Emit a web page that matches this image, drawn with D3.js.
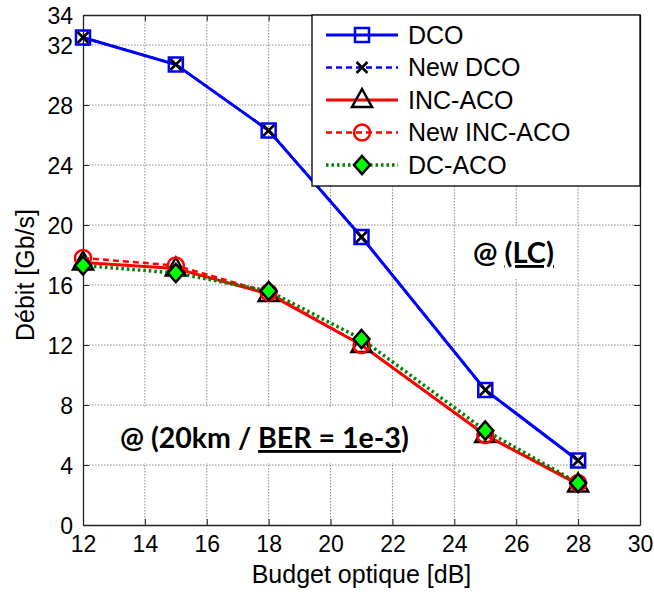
<!DOCTYPE html>
<html><head><meta charset="utf-8">
<script src="https://cdn.jsdelivr.net/npm/d3@7"></script>
<style>body{margin:0;background:#fff}svg{display:block}</style>
</head><body>
<svg id="chart" width="654" height="592"></svg>
<script>
// ---- data ----
const budget = [12, 15, 18, 21, 25, 28];
const dco = [32.5, 30.7, 26.3, 19.2, 9.0, 4.3];
const newDco = [32.5, 30.7, 26.3, 19.2, 9.0, 4.3];
const incAco = [17.5, 17.1, 15.4, 12.0, 6.0, 2.7];
const newIncAco = [17.8, 17.3, 15.5, 12.0, 6.0, 2.8];
const dcAco = [17.3, 16.8, 15.6, 12.4, 6.3, 2.8];
const xTicks = [12, 14, 16, 18, 20, 22, 24, 26, 28, 30];
const yTicks = [0, 4, 8, 12, 16, 20, 24, 28, 32, 34];
const seriesNames = ["DCO", "New DCO", "INC-ACO", "New INC-ACO", "DC-ACO"];

const svg = d3.select("#chart");
const L = 83, R = 640, T = 15, B = 525;
const x = d3.scaleLinear().domain([12, 30]).range([L, R]);
const y = d3.scaleLinear().domain([0, 34]).range([B, T]);
const AX = "'Liberation Sans', Arial, sans-serif";

// grid
const grid = svg.append("g");
grid.selectAll(".gx").data(xTicks.filter(d => d > 12 && d < 30)).join("line")
  .attr("x1", d => x(d)).attr("x2", d => x(d)).attr("y1", T).attr("y2", B)
  .attr("stroke", "#8a8a8a").attr("stroke-width", 1).attr("stroke-dasharray", "1.5,1.5");
grid.selectAll(".gy").data(yTicks.filter(d => d > 0 && d < 34)).join("line")
  .attr("y1", d => y(d)).attr("y2", d => y(d)).attr("x1", L).attr("x2", R)
  .attr("stroke", "#8a8a8a").attr("stroke-width", 1).attr("stroke-dasharray", "1.5,1.5");

// annotation boxes (white background)
svg.append("rect").attr("x", 92).attr("y", 407).attr("width", 345).attr("height", 56).attr("fill", "#fff");
svg.append("rect").attr("x", 460).attr("y", 226).attr("width", 110).attr("height", 53).attr("fill", "#fff");

// axes
const fmt = d3.format("d");
const gx = svg.append("g").attr("transform", `translate(0,${B})`)
  .call(d3.axisBottom(x).tickValues(xTicks).tickFormat(fmt).tickSizeInner(-6).tickSizeOuter(0).tickPadding(10));
const gy = svg.append("g").attr("transform", `translate(${L},0)`)
  .call(d3.axisLeft(y).tickValues(yTicks).tickFormat(fmt).tickSizeInner(-6).tickSizeOuter(0).tickPadding(10));
const gt = svg.append("g").attr("transform", `translate(0,${T})`)
  .call(d3.axisTop(x).tickValues(xTicks).tickFormat("").tickSizeInner(-6).tickSizeOuter(0));
const gr = svg.append("g").attr("transform", `translate(${R},0)`)
  .call(d3.axisRight(y).tickValues(yTicks).tickFormat("").tickSizeInner(-6).tickSizeOuter(0));
[gx, gy, gt, gr].forEach(g => {
  g.select(".domain").attr("stroke", "#222").attr("stroke-width", 1.3);
  g.selectAll(".tick line").attr("stroke", "#222").attr("stroke-width", 1);
  g.selectAll("text").attr("font-family", AX).attr("font-size", 23).attr("fill", "#000");
});
gx.selectAll("text").attr("dy", "0.75em");
gy.selectAll("text").attr("dy", "0.35em");

// axis titles
svg.append("text").attr("x", (L + R) / 2).attr("y", 583).attr("text-anchor", "middle")
  .attr("font-family", AX).attr("font-size", 25).text("Budget optique [dB]");
svg.append("text").attr("transform", `translate(34,${(T + B) / 2 + 5}) rotate(-90)`).attr("text-anchor", "middle")
  .attr("font-family", AX).attr("font-size", 25).text("Débit [Gb/s]");

// annotations
const AN = "Lato, 'Open Sans', sans-serif";
const t1 = svg.append("text").attr("x", 120).attr("y", 448).attr("font-family", AN).attr("font-weight", 700).attr("fill", "#000").attr("font-size", 28.5);
t1.append("tspan").text("@ (");
t1.append("tspan").text("20km / ");
t1.append("tspan").attr("text-decoration", "underline").text("BER = 1e-3");
t1.append("tspan").text(")");
const t2 = svg.append("text").attr("x", 473).attr("y", 263).attr("font-family", AN).attr("font-weight", 700).attr("font-size", 29).attr("fill", "#000");
t2.append("tspan").text("@ ");
t2.append("tspan").attr("text-decoration", "underline").text("(LC)");

// series styles
const styles = [
  {name: seriesNames[0], data: dco, color: "#0000ff", width: 3, dash: null, marker: "square"},
  {name: seriesNames[1], data: newDco, color: "#0000ff", width: 2.5, dash: "6,4", marker: "x"},
  {name: seriesNames[2], data: incAco, color: "#ff0000", width: 3, dash: null, marker: "triangle"},
  {name: seriesNames[3], data: newIncAco, color: "#ff0000", width: 2.5, dash: "6,4", marker: "circle"},
  {name: seriesNames[4], data: dcAco, color: "#008000", width: 3.5, dash: "2.5,3", marker: "diamond"}
];

function drawMarker(g, type, cx, cy) {
  if (type === "square") {
    g.append("rect").attr("x", cx - 7).attr("y", cy - 7).attr("width", 14).attr("height", 14)
      .attr("fill", "none").attr("stroke", "#0000ff").attr("stroke-width", 2.5);
  } else if (type === "x") {
    const s = 5.5;
    g.append("path").attr("d", `M${cx - s},${cy - s}L${cx + s},${cy + s}M${cx - s},${cy + s}L${cx + s},${cy - s}`)
      .attr("stroke", "#000").attr("stroke-width", 2.5).attr("fill", "none");
  } else if (type === "triangle") {
    g.append("path").attr("d", `M${cx},${cy - 11}L${cx + 10},${cy + 7}L${cx - 10},${cy + 7}Z`)
      .attr("fill", "none").attr("stroke", "#000").attr("stroke-width", 2.5);
  } else if (type === "circle") {
    g.append("circle").attr("cx", cx).attr("cy", cy).attr("r", 8)
      .attr("fill", "none").attr("stroke", "#ff0000").attr("stroke-width", 2.5);
  } else if (type === "diamond") {
    g.append("path").attr("d", `M${cx},${cy - 9}L${cx + 8},${cy}L${cx},${cy + 9}L${cx - 8},${cy}Z`)
      .attr("fill", "#00ff00").attr("stroke", "#000").attr("stroke-width", 2.5);
  }
}

const line = d3.line().x(d => x(d[0])).y(d => y(d[1]));
const plot = svg.append("g");
styles.forEach(s => {
  const pts = budget.map((b, i) => [b, s.data[i]]);
  plot.append("path").attr("d", line(pts)).attr("fill", "none").attr("stroke", s.color)
    .attr("stroke-width", s.width).attr("stroke-dasharray", s.dash);
  const mg = plot.append("g");
  pts.forEach(p => drawMarker(mg, s.marker, x(p[0]), y(p[1])));
});

// legend
const lg = svg.append("g");
lg.append("rect").attr("x", 312).attr("y", T).attr("width", R - 312).attr("height", 171)
  .attr("fill", "#fff").attr("stroke", "#000").attr("stroke-width", 1.3);
styles.forEach((s, i) => {
  const cy = 35 + i * 32.5;
  lg.append("line").attr("x1", 326).attr("x2", 398).attr("y1", cy).attr("y2", cy)
    .attr("stroke", s.color).attr("stroke-width", s.width).attr("stroke-dasharray", s.dash);
  drawMarker(lg, s.marker, 362, cy);
  lg.append("text").attr("x", 408).attr("y", cy).attr("dy", "0.35em")
    .attr("font-family", AX).attr("font-size", 25).text(s.name);
});
</script>
</body></html>
